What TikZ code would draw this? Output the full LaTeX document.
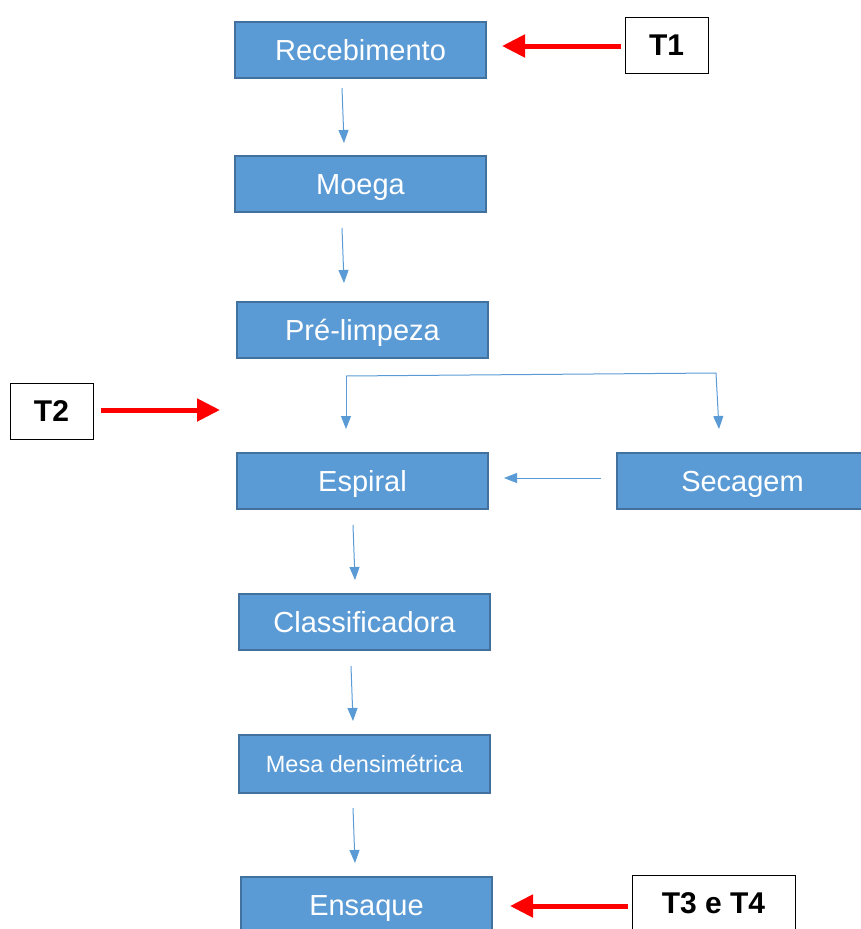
\documentclass[tikz,border=0pt]{standalone}
\usepackage{fontspec}
\setmainfont{Liberation Sans}
\usetikzlibrary{arrows.meta}
\definecolor{boxfill}{HTML}{5B9BD5}
\definecolor{boxline}{HTML}{41719C}
\definecolor{flow}{HTML}{5B9BD5}
\begin{document}
\begin{tikzpicture}[x=1pt,y=-1pt,
  stage/.style={draw=boxline,line width=2pt,fill=boxfill,text=white,minimum width=251pt,minimum height=56pt,inner sep=0pt,text height=21pt,text depth=0pt,font=\fontsize{29}{34}\selectfont},
  tag/.style={draw=black,line width=1pt,fill=white,minimum height=56pt,inner sep=0pt,text height=21.5pt,text depth=0pt,font=\fontsize{30}{36}\selectfont\bfseries},
  flowarrow/.style={draw=flow,line width=1pt,-{Triangle[length=13pt,width=10pt]}},
  redarrow/.style={draw=red,line width=5pt,-{Triangle[length=23pt,width=22pt]}}]
\useasboundingbox (0,0) rectangle (861,929);
\clip (0,0) rectangle (861,929);
\node[stage] (rec) at (360.5,49.5) {Recebimento};
\node[stage] (moe) at (360.5,184) {Moega};
\node[stage] (pre) at (362.5,329.5) {Pré-limpeza};
\node[stage] (esp) at (362.5,481) {Espiral};
\node[stage] (sec) at (742.5,481) {Secagem};
\node[stage] (cla) at (364.5,622) {Classificadora};
\node[stage,minimum height=58pt,text height=17pt,font=\fontsize{23.5}{28}\selectfont] (mesa) at (364.5,764) {Mesa densimétrica};
\node[stage] (ens) at (366.5,905) {Ensaque};
\node[tag,minimum width=83pt] (t1) at (666.5,45) {T1};
\node[tag,minimum width=83pt] (t2) at (51.5,411) {T2};
\node[tag,minimum width=163pt] (t3) at (713.5,903) {T3 e T4};
% flow connectors
\coordinate (a1s) at (342,88); \coordinate (a1e) at (344,143);
\coordinate (a2s) at (342,228); \coordinate (a2e) at (344,283);
\coordinate (b1) at (346,429); \coordinate (b2) at (346,376);
\coordinate (b3) at (716,373); \coordinate (b4) at (719,429);
\coordinate (s1) at (601,478); \coordinate (s2) at (504,478);
\coordinate (a3s) at (353,525); \coordinate (a3e) at (355,580);
\coordinate (a4s) at (351,666); \coordinate (a4e) at (353,721);
\coordinate (a5s) at (353,808); \coordinate (a5e) at (355,863);
\draw[flowarrow] (a1s) -- (a1e);
\draw[flowarrow] (a2s) -- (a2e);
\draw[flowarrow] (b2) -- (b1);
\draw[flowarrow] (b2) -- (b3) -- (b4);
\draw[flowarrow] (s1) -- (s2);
\draw[flowarrow] (a3s) -- (a3e);
\draw[flowarrow] (a4s) -- (a4e);
\draw[flowarrow] (a5s) -- (a5e);
% red arrows
\coordinate (r1e) at (502,46);
\coordinate (r2e) at (220,410);
\coordinate (r3e) at (510,906);
\draw[redarrow] (t1.west |- r1e) ++(-4,0) -- (r1e);
\draw[redarrow] (t2.east |- r2e) ++(7,0) -- (r2e);
\draw[redarrow] (t3.west |- r3e) ++(-4,0) -- (r3e);
\end{tikzpicture}
\end{document}
